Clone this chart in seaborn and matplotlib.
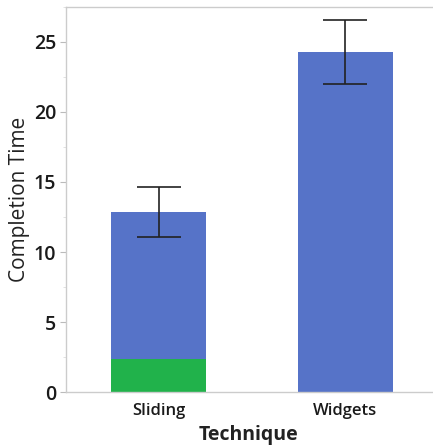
import matplotlib
matplotlib.use("Agg")
import matplotlib.pyplot as plt
import seaborn as sns
import pandas as pd
from matplotlib.ticker import MultipleLocator

techniques = ["Sliding", "Widgets"]
total_time = [12.86, 24.3]
green_part = [2.36, 0.0]
err_low = [11.07, 22.0]
err_high = [14.64, 26.57]
yticks = [0, 5, 10, 15, 20, 25]

blue = "#5673C8"
green = "#21B24B"

sns.set_theme(style="white")
plt.rcParams["font.family"] = ["Open Sans", "DejaVu Sans"]

df = pd.DataFrame({"Technique": techniques, "Total": total_time, "Green": green_part})

fig = plt.figure(figsize=(4.33, 4.46), dpi=100)
ax = fig.add_axes([66/433, 1 - 392/446, (432-66)/433, (392-7)/446])

sns.barplot(data=df, x="Technique", y="Total", color=blue, width=0.51,
            saturation=1, ax=ax, errorbar=None, linewidth=0)
sns.barplot(data=df, x="Technique", y="Green", color=green, width=0.51,
            saturation=1, ax=ax, errorbar=None, linewidth=0)

mid = [(lo + hi) / 2 for lo, hi in zip(err_low, err_high)]
half = [(hi - lo) / 2 for lo, hi in zip(err_low, err_high)]
ax.errorbar(x=list(range(len(techniques))), y=mid, yerr=half, fmt="none",
            ecolor="#222222", elinewidth=1.2, capsize=15.5, capthick=1.2, zorder=5)

ax.set_ylim(0, 27.5)
ax.set_xlim(-0.497, 1.465)
ax.set_yticks(yticks)
ax.yaxis.set_minor_locator(MultipleLocator(2.5))
ax.tick_params(axis="y", which="major", left=True, length=4, width=0.8, color="#bbbbbb",
               labelsize=14, labelcolor="#1a1a1a", pad=3)
ax.tick_params(axis="y", which="minor", left=True, length=2, width=0.6, color="#dddddd")
ax.tick_params(axis="x", bottom=False, labelsize=12, labelcolor="#1a1a1a", pad=2)
for lbl in ax.get_yticklabels() + ax.get_xticklabels():
    lbl.set_fontweight("semibold")

for s in ["left", "top", "bottom"]:
    ax.spines[s].set_visible(True)
    ax.spines[s].set_color("#cccccc")
    ax.spines[s].set_linewidth(1.0)
ax.spines["right"].set_visible(False)

ax.set_ylabel("Completion Time", fontsize=15, color="#222222", labelpad=3)
ax.set_xlabel("Technique", fontsize=14, fontweight="bold", color="#222222", labelpad=4)

fig.savefig("out.png", dpi=100)
